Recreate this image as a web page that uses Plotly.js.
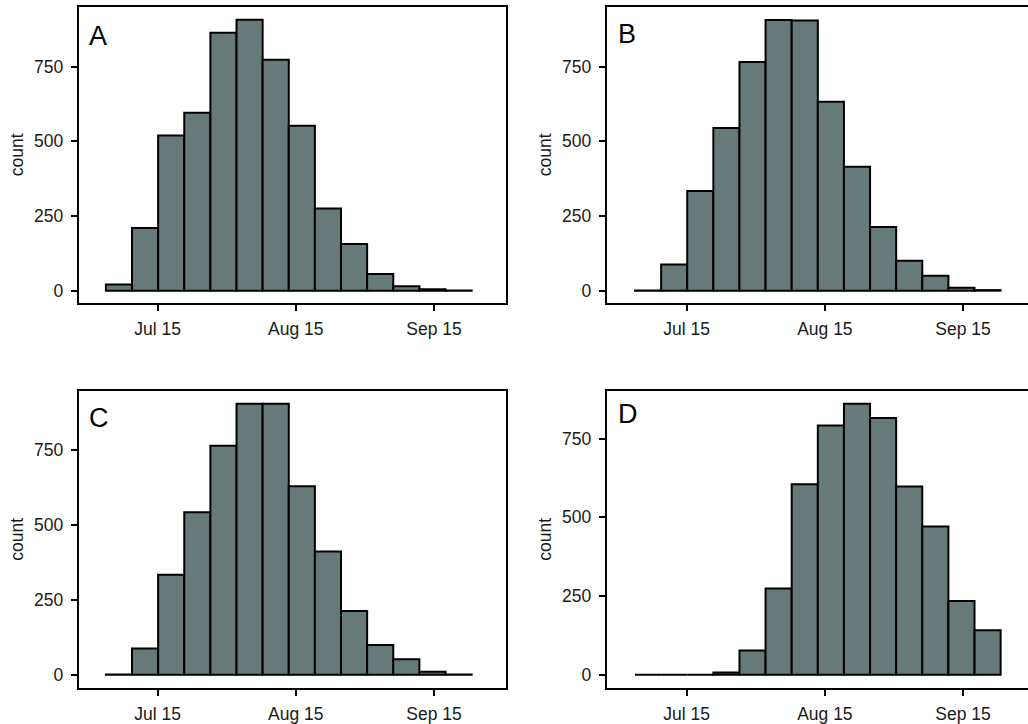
<!DOCTYPE html>
<html>
<head>
<meta charset="utf-8">
<script src="https://cdn.plot.ly/plotly-3.0.1.min.js"></script>
<style>html,body{margin:0;padding:0;background:#fff;}#chart{width:1028px;height:724px;}</style>
</head>
<body>
<div id="chart"></div>
<script>
// ---- data ----
var binCenters = ["2021-07-06 08:00", "2021-07-12 04:34", "2021-07-18 01:12", "2021-07-23 21:50",
                  "2021-07-29 18:29", "2021-08-04 15:07", "2021-08-10 11:46", "2021-08-16 08:24",
                  "2021-08-22 05:02", "2021-08-28 01:41", "2021-09-02 22:19", "2021-09-08 18:58",
                  "2021-09-14 15:36", "2021-09-20 12:14"];
var binWidthDays = 5.86;
var countsA = [21, 210, 520, 596, 864, 907, 773, 552, 275, 156, 56, 15, 5, 1];
var countsB = [1, 88, 334, 545, 766, 906, 905, 633, 415, 213, 100, 50, 10, 2];
var countsC = [1, 88, 334, 543, 765, 906, 906, 630, 412, 213, 99, 52, 10, 1];
var countsD = [0, 0, 0, 7, 77, 274, 605, 792, 861, 816, 598, 471, 234, 141];
var panelLabels = ["A", "B", "C", "D"];
var xTickVals = ["2021-07-15", "2021-08-15", "2021-09-15"];
var xTickText = ["Jul 15", "Aug 15", "Sep 15"];
var yTickVals = [0, 250, 500, 750];
var yTitle = "count";

// ---- layout geometry ----
var W = 1028, H = 724;
var DAY = 86400000;
var base = Date.UTC(2021, 6, 15);
function iso(ms) { return new Date(ms).toISOString().replace("T", " ").replace("Z", ""); }

var fill = "#667a7a";
var fontFam = "Liberation Sans, Arial, Helvetica, sans-serif";

// px boxes: [left, right, top, bottom] of plotting area; x range in days from Jul 15; y range
var panels = [
  {counts: countsA, px: [78.7, 505.7, 6.7, 303],   xr: [-17.7, 78.08], yr: [-41.2, 950.9], lab: [87, 35.5]},
  {counts: countsB, px: [606.7, 1028, 6.7, 303],   xr: [-17.95, 76.58], yr: [-41.2, 950.9], lab: [615.5, 34.5]},
  {counts: countsC, px: [78.7, 505.7, 391, 687.7], xr: [-17.7, 78.08], yr: [-43.4, 948.2], lab: [87, 418]},
  {counts: countsD, px: [606.7, 1028, 391, 687.7], xr: [-17.95, 76.58], yr: [-41.3, 901.6], lab: [615.5, 414]}
];

var data = [];
var layout = {
  width: W, height: H,
  margin: {l: 0, r: 0, t: 0, b: 0},
  paper_bgcolor: "#fff", plot_bgcolor: "#fff",
  showlegend: false,
  font: {family: fontFam, color: "#1a1a1a"},
  annotations: []
};

panels.forEach(function (p, i) {
  var n = i + 1;
  var xa = "xaxis" + (n === 1 ? "" : n), ya = "yaxis" + (n === 1 ? "" : n);
  var xs = "x" + (n === 1 ? "" : n), ys = "y" + (n === 1 ? "" : n);
  data.push({
    type: "bar", x: binCenters, y: p.counts, xaxis: xs, yaxis: ys,
    width: binWidthDays * DAY,
    marker: {color: fill, line: {color: "#000", width: 2}},
    hoverinfo: "x+y"
  });
  layout[xa] = {
    type: "date", domain: [p.px[0] / W, p.px[1] / W], anchor: ys,
    range: [iso(base + p.xr[0] * DAY), iso(base + p.xr[1] * DAY)],
    tickmode: "array", tickvals: xTickVals, ticktext: xTickText,
    showgrid: false, zeroline: false,
    showline: true, linecolor: "#000", linewidth: 2, mirror: true,
    ticks: "outside", ticklen: 6, tickwidth: 2, tickcolor: "#000",
    tickfont: {size: 17.5, color: "#1a1a1a", family: fontFam},
    ticklabelstandoff: 3
  };
  layout[ya] = {
    domain: [1 - p.px[3] / H, 1 - p.px[2] / H], anchor: xs,
    range: p.yr,
    tickmode: "array", tickvals: yTickVals,
    showgrid: false, zeroline: false,
    showline: true, linecolor: "#000", linewidth: 2, mirror: true,
    ticks: "outside", ticklen: 6, tickwidth: 2, tickcolor: "#000",
    tickfont: {size: 17.5, color: "#1a1a1a", family: fontFam},
    ticklabelstandoff: 4,
    title: {text: yTitle, font: {size: 17.5, color: "#1a1a1a", family: fontFam}, standoff: 6}
  };
  layout.annotations.push({
    text: panelLabels[i], xref: "paper", yref: "paper",
    x: p.lab[0] / W, y: 1 - p.lab[1] / H, xanchor: "left", yanchor: "middle",
    showarrow: false, font: {size: 27, color: "#000", family: fontFam}
  });
});

Plotly.newPlot("chart", data, layout, {displayModeBar: false, staticPlot: true});
</script>
</body>
</html>
